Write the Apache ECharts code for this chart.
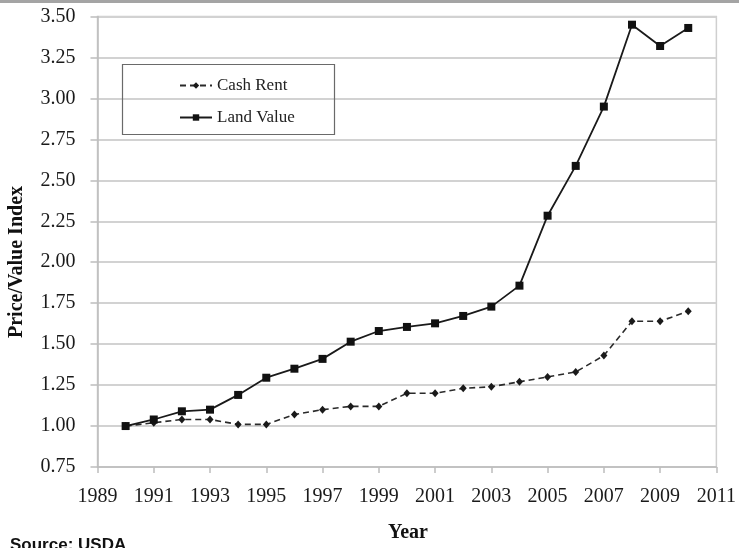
<!DOCTYPE html>
<html>
<head>
<meta charset="utf-8">
<script src="https://cdn.jsdelivr.net/npm/echarts@6/dist/echarts.min.js"></script>
<style>
  html, body { margin: 0; padding: 0; background: #fff; }
  #chart { width: 739px; height: 548px; }
</style>
</head>
<body>
<div id="chart"></div>
<script>
// Farmland index series, 1990 = 1.00
const years = [1990, 1991, 1992, 1993, 1994, 1995, 1996, 1997, 1998, 1999, 2000,
               2001, 2002, 2003, 2004, 2005, 2006, 2007, 2008, 2009, 2010];
const cashRent = [1.00, 1.02, 1.04, 1.04, 1.01, 1.01, 1.07, 1.10, 1.12, 1.12, 1.20,
                  1.20, 1.23, 1.24, 1.27, 1.30, 1.33, 1.43, 1.64, 1.64, 1.70];
const landValue = [1.00, 1.04, 1.09, 1.10, 1.19, 1.295, 1.35, 1.41, 1.515, 1.58, 1.605,
                   1.627, 1.672, 1.729, 1.857, 2.284, 2.588, 2.95, 3.45, 3.32, 3.43];
const xTickYears = [1989, 1991, 1993, 1995, 1997, 1999, 2001, 2003, 2005, 2007, 2009, 2011];

const serif = '"Liberation Serif", "Times New Roman", serif';
const chart = echarts.init(document.getElementById('chart'), null, { renderer: 'canvas' });

const pairs = (ys) => years.map((y, i) => [y, ys[i]]);

chart.setOption({
  animation: false,
  backgroundColor: '#ffffff',
  grid: {
    left: 97.5, right: 22, top: 16.5, bottom: 81,
    show: true, borderColor: '#cfcfcf', borderWidth: 1.5
  },
  xAxis: {
    type: 'value', min: 1989, max: 2011,
    axisLine: { show: true, lineStyle: { color: '#bdbdbd', width: 1.5 } },
    axisTick: { show: true, customValues: xTickYears, length: 6, lineStyle: { color: '#bdbdbd', width: 1.5 } },
    axisLabel: {
      customValues: xTickYears, margin: 20,
      fontFamily: serif, fontSize: 20, color: '#1a1a1a',
      formatter: (v) => String(v)
    },
    splitLine: { show: false }
  },
  yAxis: {
    type: 'value', min: 0.75, max: 3.5, interval: 0.25,
    axisLine: { show: true, lineStyle: { color: '#bdbdbd', width: 1.5 } },
    axisTick: { show: true, length: 7, lineStyle: { color: '#bdbdbd', width: 1.5 } },
    axisLabel: {
      margin: 22, fontFamily: serif, fontSize: 20, color: '#1a1a1a',
      formatter: (v) => v.toFixed(2)
    },
    splitLine: { show: true, lineStyle: { color: '#d2d2d2', width: 2 } }
  },
  legend: {
    orient: 'vertical', left: 174, top: 72, itemGap: 15,
    itemWidth: 32, itemHeight: 8,
    textStyle: { fontFamily: serif, fontSize: 17, color: '#222' },
    data: ['Cash Rent', 'Land Value']
  },
  series: [
    {
      name: 'Cash Rent', type: 'line', data: pairs(cashRent),
      symbol: 'diamond', symbolSize: [7, 8],
      lineStyle: { color: '#2a2a2a', width: 1.6, type: [6, 4] },
      itemStyle: { color: '#1a1a1a' }
    },
    {
      name: 'Land Value', type: 'line', data: pairs(landValue),
      symbol: 'rect', symbolSize: 8,
      lineStyle: { color: '#1a1a1a', width: 1.8 },
      itemStyle: { color: '#111' }
    }
  ],
  graphic: [
    { type: 'rect', left: 0, top: 0, shape: { width: 739, height: 3 }, style: { fill: '#a4a4a4' } },
    { type: 'rect', left: 120, top: 62, shape: { width: 212, height: 70 },
      style: { fill: 'none', stroke: '#6a6a6a', lineWidth: 1.2 }, z: 1 },
    { type: 'text', x: 17, y: 262, rotation: Math.PI / 2,
      style: { text: 'Price/Value Index', font: 'bold 20px ' + serif, fill: '#111',
               textAlign: 'center', textVerticalAlign: 'middle' } },
    { type: 'text', x: 408, y: 533,
      style: { text: 'Year', font: 'bold 20px ' + serif, fill: '#111',
               textAlign: 'center', textVerticalAlign: 'middle' } },
    { type: 'text', x: 10, y: 537,
      style: { text: 'Source: USDA', font: 'bold 17px "Liberation Sans", Arial, sans-serif', fill: '#111',
               textAlign: 'left', textVerticalAlign: 'top' } }
  ]
});
</script>
</body>
</html>
